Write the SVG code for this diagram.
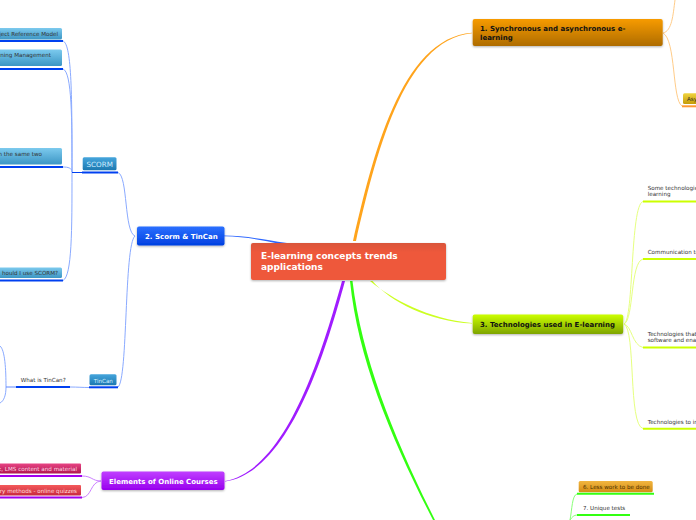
<svg xmlns="http://www.w3.org/2000/svg" width="696" height="520" viewBox="0 0 696 520">
<defs>
<linearGradient id="gC" x1="0" y1="0" x2="0" y2="1"><stop offset="0" stop-color="#d9553a"/><stop offset="0.25" stop-color="#ee583b"/><stop offset="1" stop-color="#ee583b"/></linearGradient>
<linearGradient id="gO" x1="0" y1="0" x2="0" y2="1"><stop offset="0" stop-color="#f79b00"/><stop offset="1" stop-color="#ae6c04"/></linearGradient>
<linearGradient id="gL" x1="0" y1="0" x2="0" y2="1"><stop offset="0" stop-color="#ccff00"/><stop offset="1" stop-color="#7ea400"/></linearGradient>
<linearGradient id="gB" x1="0" y1="0" x2="0" y2="1"><stop offset="0" stop-color="#2b70ff"/><stop offset="1" stop-color="#0040e0"/></linearGradient>
<linearGradient id="gP" x1="0" y1="0" x2="0" y2="1"><stop offset="0" stop-color="#c040ff"/><stop offset="1" stop-color="#9800ee"/></linearGradient>
<linearGradient id="gS" x1="0" y1="0" x2="0" y2="1"><stop offset="0" stop-color="#45a5dc"/><stop offset="1" stop-color="#1c78b0"/></linearGradient>
<linearGradient id="gA" x1="0" y1="0" x2="0" y2="1"><stop offset="0" stop-color="#7ccaee"/><stop offset="1" stop-color="#3c96c4"/></linearGradient>
<linearGradient id="gK" x1="0" y1="0" x2="0" y2="1"><stop offset="0" stop-color="#e84484"/><stop offset="1" stop-color="#b01850"/></linearGradient>
<linearGradient id="gR" x1="0" y1="0" x2="0" y2="1"><stop offset="0" stop-color="#f45a5a"/><stop offset="1" stop-color="#c82840"/></linearGradient>
<linearGradient id="gY" x1="0" y1="0" x2="0" y2="1"><stop offset="0" stop-color="#f0d440"/><stop offset="1" stop-color="#c49c08"/></linearGradient>
<linearGradient id="gT" x1="0" y1="0" x2="0" y2="1"><stop offset="0" stop-color="#f2b640"/><stop offset="1" stop-color="#d48c14"/></linearGradient>
<filter id="sh" x="-10%" y="-20%" width="120%" height="150%"><feDropShadow dx="0" dy="1" stdDeviation="0.8" flood-color="#000" flood-opacity="0.3"/></filter>
</defs>
<style>
text{font-family:"DejaVu Sans","Liberation Sans",sans-serif;}
.box{filter:url(#sh);}
.t1{font-weight:bold;font-size:7px;}
.leaf{font-size:5.6px;fill:#333;}
.cb{fill:none;stroke:#8aaaff;stroke-width:1;}
.cy{fill:none;stroke:#e6ff80;stroke-width:1;}
.co{fill:none;stroke:#ffcc88;stroke-width:1;}
.cp{fill:none;stroke:#cc80ff;stroke-width:1;}
.cg{fill:none;stroke:#88ff77;stroke-width:1;}
.ub{stroke:#0040f0;stroke-width:2;}
.uy{stroke:#ccff00;stroke-width:2;}
.up{stroke:#a000ee;stroke-width:2;}
.ug{stroke:#33ff11;stroke-width:2;}
.uo{stroke:#ff9933;stroke-width:2;}
</style>
<g id="connectors">
<path d="M353 241 C372 160 400 38 472 32.8 L472 33.3 C402 40 375 160 356 241 Z" fill="#ffa41c"/>
<path d="M287 243 C262 239 245 235.8 224 235.6 L224 236.2 C245 236.6 262 240 280 244 Z" fill="#2d66ff"/>
<path d="M370 281 C392 299 428 319 472 323 L472 323.6 C428 321 391 302 372.5 281 Z" fill="#ccff22"/>
<path d="M342 281 C320 360 285 470 225 481 L225 481.6 C287 472 323 362 345 281 Z" fill="#a01cff"/>
<path d="M352.5 281 C362 360 395 440 435 520 L433 520 C392 440 358 360 350 281 Z" fill="#33ff11"/>
<path class="co" d="M663 33 C672 31 673 15 675 0"/>
<path class="co" d="M663 33 C676 40 672 100 682 106"/>
<path class="cb" d="M118 172.5 C128 176 124 232 135 236"/>
<path class="cb" d="M118 387 C128 380 124 245 135 236"/>
<path class="cb" d="M63 41 C72 44 72 100 72 172"/>
<path class="cb" d="M63 69 C72 72 72 120 72 172"/>
<path class="cb" d="M63 167 C68 167 72 168 72 172"/>
<path class="cb" d="M63 280.5 C72 276 72 230 72 172"/>
<path d="M72 172.5 H82" stroke="#0040f0" stroke-width="1" fill="none"/>
<path class="cb" d="M70 387 C78 387 82 387.5 89 387.5"/>
<path class="cb" d="M0 346 C5 350 6 370 6 387 C6 395 4 401 0 403"/>
<path d="M6 387 H16" stroke="#5f88ff" stroke-width="1" fill="none"/>
<path class="cp" d="M82 476 C92 476 92 481 101 481"/>
<path class="cp" d="M82 497.5 C92 497 90 482 101 481"/>
<path class="cy" d="M624 324 C634 320 630 205 643 201.5"/>
<path class="cy" d="M624 324 C634 320 630 262 643 259"/>
<path class="cy" d="M624 324 C632 326 632 345 643 347.5"/>
<path class="cy" d="M624 324 C636 330 628 425 643 428.5"/>
<path class="cg" d="M577 494 C572 495 572 510 570 520"/>
<path class="cg" d="M577 515 C574 515 572 517 570 520"/>
</g>
<g id="central"><rect class="box" x="251" y="243" width="195" height="37" rx="2" fill="url(#gC)"/><text x="261" y="259" font-size="9" font-weight="bold" fill="#fff">E-learning concepts trends</text><text x="261" y="270" font-size="9" font-weight="bold" fill="#fff">applications</text></g>
<g id="n1"><rect class="box" x="472.7" y="19" width="190" height="27" rx="2" fill="url(#gO)"/><text class="t1" x="480" y="31" fill="#111">1. Synchronous and asynchronous e-</text><text class="t1" x="480" y="40" fill="#111">learning</text></g>
<g id="n3"><rect class="box" x="472.7" y="314.5" width="150.5" height="19.5" rx="2" fill="url(#gL)"/><text class="t1" x="480" y="327" fill="#111">3. Technologies used in E-learning</text></g>
<g id="n2"><rect class="box" x="137" y="226.5" width="87.5" height="19" rx="2" fill="url(#gB)"/><text class="t1" x="145" y="239" fill="#fff">2. Scorm &amp; TinCan</text></g>
<g id="n4"><rect class="box" x="101.5" y="471.5" width="123" height="18.5" rx="2" fill="url(#gP)"/><text class="t1" x="109" y="484" fill="#fff">Elements of Online Courses</text></g>
<g id="scorm"><rect x="82.7" y="157.3" width="33.8" height="13" rx="1.5" fill="url(#gS)"/><text x="86.5" y="167" font-size="7.2" fill="#cfeeff">SCORM</text><line class="ub" x1="82" y1="172.4" x2="118" y2="172.4"/></g>
<g id="tincan"><rect x="89.5" y="374.3" width="27" height="11" rx="1.5" fill="url(#gS)"/><text x="93.7" y="382.7" font-size="5.6" fill="#d8f0ff">TinCan</text><line class="ub" x1="89" y1="387.3" x2="118" y2="387.3"/></g>
<g id="whatis"><text class="leaf" x="20.7" y="382">What is TinCan?</text><line class="ub" x1="16" y1="387" x2="70" y2="387"/></g>
<g id="l1"><rect x="-4" y="28" width="66" height="11.5" rx="1.5" fill="url(#gA)"/><text class="leaf" x="58" y="36" text-anchor="end">ject Reference Model</text><line class="ub" x1="0" y1="41" x2="63" y2="41"/></g>
<g id="l2"><rect x="-4" y="49.5" width="66" height="16.5" rx="1.5" fill="url(#gA)"/><text class="leaf" x="51" y="57" text-anchor="end">rning Management</text><line class="ub" x1="0" y1="69" x2="63" y2="69"/></g>
<g id="l3"><rect x="-4" y="148" width="66" height="16.5" rx="1.5" fill="url(#gA)"/><text class="leaf" x="42" y="156" text-anchor="end">n the same two</text><line class="ub" x1="0" y1="167" x2="63" y2="167"/></g>
<g id="l4"><rect x="-4" y="267.5" width="66" height="10.5" rx="1.5" fill="url(#gA)"/><text class="leaf" x="58" y="275" text-anchor="end">hould I use SCORM?</text><line class="ub" x1="0" y1="280.5" x2="63" y2="280.5"/></g>
<g id="p1"><rect x="-4" y="463.5" width="85" height="10" rx="1" fill="url(#gK)"/><text x="77" y="471" font-size="5.6" text-anchor="end" fill="#ffd8e4">k, LMS content and material</text><line class="up" x1="0" y1="476" x2="82" y2="476"/></g>
<g id="p2"><rect x="-4" y="485" width="85" height="10.5" rx="1" fill="url(#gR)"/><text x="77" y="493" font-size="5.6" text-anchor="end" fill="#ffdcdc">ry methods - online quizzes</text><line class="up" x1="0" y1="497.6" x2="82" y2="497.6"/></g>
<g id="asy"><rect x="683" y="93.3" width="17" height="10.7" rx="1.5" fill="url(#gY)"/><text x="687" y="101" font-size="5.6" fill="#332">Asy</text><line class="uo" x1="682" y1="106.3" x2="696" y2="106.3"/></g>
<g id="t1"><text class="leaf" x="647.7" y="190">Some technologie</text><text class="leaf" x="647.7" y="196">learning</text><line class="uy" x1="643" y1="201.4" x2="696" y2="201.4"/></g>
<g id="t2"><text class="leaf" x="647.7" y="254">Communication te</text><line class="uy" x1="643" y1="259" x2="696" y2="259"/></g>
<g id="t3"><text class="leaf" x="647.7" y="336">Technologies that</text><text class="leaf" x="647.7" y="342">software and ena</text><line class="uy" x1="643" y1="347.4" x2="696" y2="347.4"/></g>
<g id="t4"><text class="leaf" x="647.7" y="424">Technologies to in</text><line class="uy" x1="643" y1="428.8" x2="696" y2="428.8"/></g>
<g id="g6"><rect x="578.7" y="481" width="74" height="11.3" rx="1.5" fill="url(#gT)"/><text x="583" y="489" font-size="5.6" fill="#4a3000">6. Less work to be done</text><line class="ug" x1="577" y1="493.8" x2="654" y2="493.8"/></g>
<g id="g7"><text class="leaf" x="583" y="510">7. Unique tests</text><line class="ug" x1="577" y1="515" x2="630" y2="515"/></g>
</svg>
